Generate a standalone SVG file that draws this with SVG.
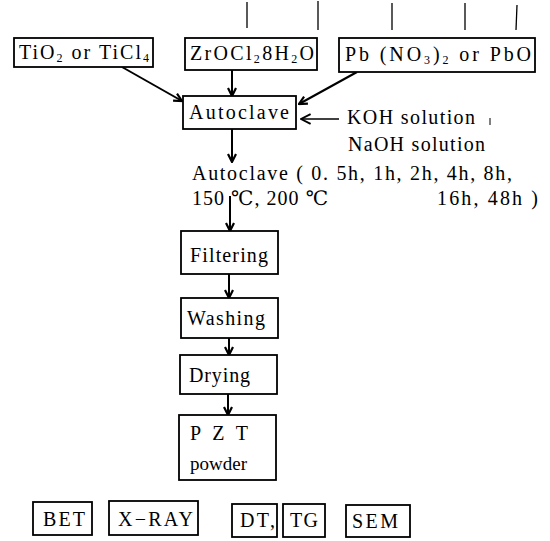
<svg xmlns="http://www.w3.org/2000/svg" width="550" height="541" viewBox="0 0 550 541">
<defs>
<marker id="ah" viewBox="0 0 10 10" refX="9" refY="5" markerWidth="10" markerHeight="10" markerUnits="userSpaceOnUse" orient="auto">
<path d="M1,1 L9,5 L1,9" fill="none" stroke="#000" stroke-width="2.2"/>
</marker>
<marker id="ah2" viewBox="0 0 10 10" refX="9" refY="5" markerWidth="12" markerHeight="12" markerUnits="userSpaceOnUse" orient="auto">
<path d="M1,1 L9,5 L1,9" fill="none" stroke="#000" stroke-width="1.6"/>
</marker>
</defs>
<style>
text{font-family:"Liberation Serif","DejaVu Serif",serif;font-size:20px;fill:#000}
.box{fill:#fff;stroke:#000;stroke-width:1.8}
.sub{font-size:12px}
.c{fill:none;stroke:#000;stroke-width:2;marker-end:url(#ah)}
.tick{stroke:#000;stroke-width:1.3}
</style>
<rect width="550" height="541" fill="#fff"/>
<g id="ticks">
<line class="tick" x1="247" y1="2" x2="247" y2="28"/>
<line class="tick" x1="318" y1="1" x2="318" y2="30"/>
<line class="tick" x1="392" y1="3" x2="392" y2="30"/>
<line class="tick" x1="465" y1="3" x2="465" y2="30"/>
<line class="tick" x1="517" y1="5" x2="516" y2="30"/>
</g>
<g id="connectors">
<line class="c" x1="122" y1="67" x2="182" y2="101"/>
<line class="c" x1="232" y1="70" x2="232" y2="96"/>
<line class="c" x1="357" y1="72" x2="299" y2="104"/>
<line x1="339" y1="119" x2="301" y2="119" stroke="#000" stroke-width="1.6" marker-end="url(#ah2)"/>
<line class="c" x1="232" y1="129" x2="232" y2="162"/>
<line class="c" x1="230" y1="196" x2="230" y2="231"/>
<line class="c" x1="229" y1="274" x2="229" y2="298"/>
<line class="c" x1="229" y1="338" x2="229" y2="355"/>
<line class="c" x1="228" y1="394" x2="228" y2="415"/>
</g>
<g id="n-tio2">
<rect class="box" x="14" y="38" width="139" height="29"/>
<text x="19" y="59" textLength="130" lengthAdjust="spacing">TiO<tspan class="sub" dy="3">2</tspan><tspan dy="-3"> or TiCl</tspan><tspan class="sub" dy="3">4</tspan></text>
</g>
<g id="n-zr">
<rect class="box" x="185" y="38" width="132" height="32"/>
<text x="190" y="60" textLength="124" lengthAdjust="spacing">ZrOCl<tspan class="sub" dy="3">2</tspan><tspan dy="-3">8H</tspan><tspan class="sub" dy="3">2</tspan><tspan dy="-3">O</tspan></text>
</g>
<g id="n-pb">
<rect class="box" x="339" y="38" width="196" height="34"/>
<text x="345" y="61" textLength="186" lengthAdjust="spacing">Pb (NO<tspan class="sub" dy="3">3</tspan><tspan dy="-3">)</tspan><tspan class="sub" dy="3">2</tspan><tspan dy="-3"> or PbO</tspan></text>
</g>
<g id="n-autoclave">
<rect class="box" x="183" y="96" width="113" height="33"/>
<text x="189" y="119" textLength="100" lengthAdjust="spacing">Autoclave</text>
</g>
<g id="n-koh">
<text x="347" y="124" textLength="128" lengthAdjust="spacing">KOH solution</text>
<line x1="490" y1="118" x2="490" y2="125" stroke="#000" stroke-width="1"/>
<text x="348" y="151" textLength="137" lengthAdjust="spacing">NaOH solution</text>
</g>
<g id="n-cond">
<text x="192" y="180" textLength="320" lengthAdjust="spacing">Autoclave ( 0. 5h, 1h, 2h, 4h, 8h,</text>
<text x="192" y="205" textLength="136" lengthAdjust="spacing">150 ℃, 200 ℃</text>
<text x="437" y="205" textLength="101" lengthAdjust="spacing">16h, 48h )</text>
</g>
<g id="n-filter">
<rect class="box" x="181" y="231" width="97" height="43"/>
<text x="190" y="262" textLength="78" lengthAdjust="spacing">Filtering</text>
</g>
<g id="n-wash">
<rect class="box" x="181" y="298" width="97" height="40"/>
<text x="187" y="325" textLength="78" lengthAdjust="spacing">Washing</text>
</g>
<g id="n-dry">
<rect class="box" x="180" y="355" width="97" height="39"/>
<text x="189" y="382" textLength="61" lengthAdjust="spacing">Drying</text>
</g>
<g id="n-pzt">
<rect class="box" x="179" y="415" width="97" height="65"/>
<text x="190" y="440" textLength="58" lengthAdjust="spacing">P Z T</text>
<text x="190" y="470" style="font-size:19px">powder</text>
</g>
<g id="n-bet">
<rect class="box" x="33" y="502" width="59" height="33"/>
<text x="43" y="526" textLength="42" lengthAdjust="spacing">BET</text>
</g>
<g id="n-xray">
<rect class="box" x="109" y="501" width="89" height="34"/>
<text x="118" y="526" textLength="75" lengthAdjust="spacing">X−RAY</text>
</g>
<g id="n-dt">
<rect class="box" x="232" y="504" width="45" height="33"/>
<text x="240" y="527" textLength="35" lengthAdjust="spacing">DT,</text>
</g>
<g id="n-tg">
<rect class="box" x="283" y="504" width="42" height="33"/>
<text x="290" y="527" textLength="28" lengthAdjust="spacing">TG</text>
</g>
<g id="n-sem">
<rect class="box" x="346" y="505" width="64" height="32"/>
<text x="352" y="528" textLength="46" lengthAdjust="spacing">SEM</text>
</g>
</svg>
